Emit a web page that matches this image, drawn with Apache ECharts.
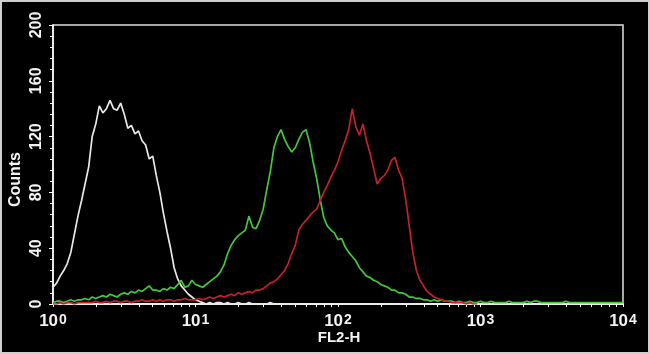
<!DOCTYPE html>
<html>
<head>
<meta charset="utf-8">
<script src="https://cdn.jsdelivr.net/npm/echarts@6/dist/echarts.min.js"></script>
<style>
html,body{margin:0;padding:0;background:#cfcfcf;width:650px;height:354px;overflow:hidden;}
#chart{position:absolute;left:2px;top:2px;width:646px;height:350px;}
</style>
</head>
<body>
<div id="chart"></div>
<script>
// Histogram channels: 40 channels per decade on FL2-H (log scale 10^0 .. 10^4)
const channelsPerDecade = 40;
const xTickLabels = [1, 10, 100, 1000, 10000];
const xMinorTicks = [1,2,3,4,5,6,7,8,9,10,20,30,40,50,60,70,80,90,100,200,300,400,500,600,700,800,900,1000,2000,3000,4000,5000,6000,7000,8000,9000,10000];
const yTicks = [0, 40, 80, 120, 160, 200];

// Counts per channel
const whiteCounts = [
  12,15,20,24,29,37,50,63,74,86,
  98,120,129,142,137,140,146,140,139,144,
  136,126,128,122,124,117,114,104,106,92,
  80,65,52,40,26,18,13,10,7,5,
  3,2,1,0,1,0,1,1,0,1,
  0,0,1,0,0,1,0,0,0,0,
  0,1,0,0,0,0,0,0,0,0
];
const greenCounts = [
  1,2,2,1,2,3,2,3,3,4,
  3,5,4,5,6,5,7,6,5,7,
  8,7,9,8,10,9,11,13,10,10,
  9,11,10,12,11,14,17,12,13,17,
  14,13,12,14,16,18,20,23,28,36,
  42,46,49,51,53,63,55,54,60,68,
  82,95,112,120,125,118,113,109,112,118,
  123,125,116,102,90,75,62,56,53,51,
  46,47,41,37,34,31,26,23,20,19,
  17,16,14,13,12,10,10,8,8,7,
  5,5,4,4,3,3,2,3,2,3,
  2,2,2,1,2,1,1,2,1,1,
  2,1,1,2,1,1,1,1,2,1,
  1,1,1,2,1,2,2,1,1,1,
  1,1,1,1,2,1,1,1,1,1,
  1,1,1,1,1,1,1,1,1,1,1
];
const redCounts = [
  0,0,1,0,1,1,0,1,1,1,
  1,1,2,1,1,2,1,2,2,1,
  2,2,1,2,2,3,2,2,3,2,
  3,2,3,3,2,3,3,4,3,3,
  3,4,3,4,5,4,5,6,5,6,
  7,6,8,7,8,9,8,10,10,11,
  13,15,16,18,21,24,29,36,42,53,
  57,60,63,66,68,74,80,85,91,96,
  102,110,117,125,140,127,121,129,117,108,
  97,86,90,92,96,103,105,96,90,75,
  56,37,24,17,13,9,7,5,4,3,
  2,2,1,1,1,1,0,1,0,0
];

function toSeries(counts) {
  return counts.map((c, i) => [Math.pow(10, i / channelsPerDecade), c]);
}

const FONT = '"Liberation Sans Narrow", "Arial Narrow", "Liberation Sans", Arial, sans-serif';
const chart = echarts.init(document.getElementById('chart'), null, {renderer: 'canvas'});

chart.setOption({
  backgroundColor: '#000000',
  animation: false,
  grid: {
    left: 51, top: 23, width: 570, height: 279,
    show: true, borderColor: '#e0e0e0', borderWidth: 1.5, backgroundColor: '#000000'
  },
  xAxis: {
    type: 'log', logBase: 10, min: 1, max: 10000,
    axisLine: {show: true, lineStyle: {color: '#ffffff', width: 1.5}},
    axisTick: {show: true, length: 3, customValues: xMinorTicks, lineStyle: {color: '#ffffff', width: 1}},
    minorTick: {show: false},
    splitLine: {show: false},
    axisLabel: {
      customValues: xTickLabels,
      showMinLabel: true, showMaxLabel: true, hideOverlap: false,
      margin: 9,
      formatter: function (v) {
        const e = Math.round(Math.log10(v));
        return '{b|10}{s|' + e + '}';
      },
      rich: {
        b: {fontFamily: FONT, fontWeight: 'bold', fontSize: 17, color: '#f2f2f2', verticalAlign: 'bottom', lineHeight: 17},
        s: {fontFamily: FONT, fontWeight: 'bold', fontSize: 14, color: '#f2f2f2', verticalAlign: 'top', lineHeight: 14, padding: [0, 0, 8, 1]}
      }
    }
  },
  yAxis: {
    type: 'value', min: 0, max: 200, interval: 40,
    axisLine: {show: true, lineStyle: {color: '#ffffff', width: 1.5}},
    axisTick: {show: true, length: 4, lineStyle: {color: '#ffffff', width: 1}},
    minorTick: {show: true, splitNumber: 5, length: 3, lineStyle: {color: '#ffffff', width: 1}},
    splitLine: {show: false},
    axisLabel: {
      rotate: 90, margin: 8, color: '#f2f2f2',
      fontFamily: FONT, fontWeight: 'bold', fontSize: 16,
      showMinLabel: true, showMaxLabel: true, hideOverlap: false
    }
  },
  graphic: [
    {type: 'text', left: 6, top: 150, rotation: Math.PI / 2,
     style: {text: 'Counts', fill: '#f2f2f2', font: 'bold 16px ' + FONT}},
    {type: 'text', x: 337, y: 336,
     style: {text: 'FL2-H', fill: '#f2f2f2', font: 'bold 15px ' + FONT, align: 'center', verticalAlign: 'middle'}}
  ],
  series: [
    {type: 'line', name: 'white', data: toSeries(whiteCounts), showSymbol: false,
     lineStyle: {color: '#e8e8e8', width: 1.7}, z: 3},
    {type: 'line', name: 'green', data: toSeries(greenCounts), showSymbol: false,
     lineStyle: {color: '#44c83a', width: 1.7}, z: 4},
    {type: 'line', name: 'red', data: toSeries(redCounts), showSymbol: false,
     lineStyle: {color: '#c42228', width: 1.7}, z: 5}
  ]
});
</script>
</body>
</html>
